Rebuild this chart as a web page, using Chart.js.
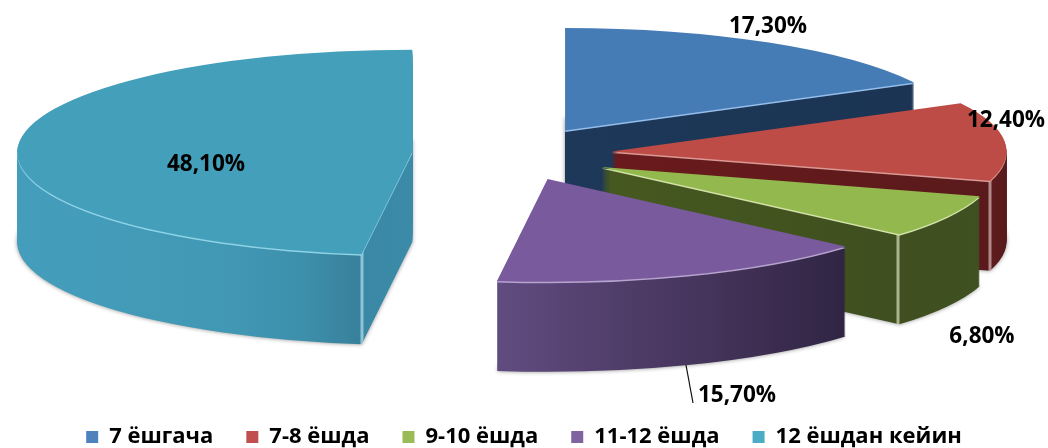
<!DOCTYPE html>
<html><head><meta charset="utf-8">
<style>html,body{margin:0;padding:0;background:#fff}canvas{display:block}</style>
<script src="https://cdn.jsdelivr.net/npm/chart.js@4"></script>
</head><body><canvas id="c" width="1048" height="448"></canvas>
<script>
const categories = ['7 ёшгача','7-8 ёшда','9-10 ёшда','11-12 ёшда','12 ёшдан кейин'];
const values = [17.3,12.4,6.8,15.7,48.1];
const legendColors = ['#4f81bd','#c0504d','#9bbb59','#8064a2','#4bacc6'];
const topColors = ['#457cb6','#bd4b46','#93b84e','#795a9c','#449fba'];
const explode = [105,101,103,103,99];

const CX = 511, CY = 154, SQUASH = 0.26, DEPTH = 90, RADIUS = 395, FONT = '"Open Sans", Lato, sans-serif';
const rim = ['rgba(150,190,235,1)','#d99a96','#d2e2a8','#b7a4cf','#8fd3e6'];
// horizontal shading of each slice's side wall: [pixel x, colour]
const walls = [
  [[560,'#1d3859'],[912,'#1b3453']],
  [[612,'#6a1a1c'],[988,'#5a1a1b'],[989,'#b08a88'],[991,'#b08a88'],[992,'#5e1c1d'],[1006,'#571a1b']],
  [[600,'#46591f'],[896,'#3f4f20'],[897,'#a8b48c'],[899,'#a8b48c'],[900,'#3f4f20'],[980,'#3f5021']],
  [[498,'#614c80'],[640,'#4d3b66'],[760,'#3e2e52'],[847,'#2f2543']],
  [[15,'#449ebb'],[230,'#4198b5'],[300,'#3d90ac'],[360,'#38809b'],[361,'#8fc4d6'],[363,'#8fc4d6'],[364,'#3a88a6'],[412,'#3a8aa8']]
];
const labelSpots = [[768,27],[1006,121],[982,337],[737,396],[206,165]];
const leader = [[686,365],[693,403]];

function paint(el, fill){
  const o = el.options;
  el.options = Object.create(o,{backgroundColor:{value:fill},offset:{value:0}});
  el.draw(el.$ctx);
  el.options = o;
}
const pie3d = {
  id:'pie3d',
  beforeDatasetsDraw(chart){
    const ctx = chart.ctx, arcs = chart.getDatasetMeta(0).data;
    arcs.forEach((el,i)=>{
      el.$ctx = ctx;
      const mid = (el.startAngle+el.endAngle)/2, off = el.options.offset;
      const put = dy => {
        ctx.translate(CX,CY+dy); ctx.scale(1,SQUASH);
        ctx.translate(Math.cos(mid)*off,Math.sin(mid)*off);
        ctx.translate(-el.x,-el.y);
      };
      const ux = px => px-CX-Math.cos(mid)*off+el.x;
      const w = walls[i], x0 = w[0][0], x1 = w[w.length-1][0];
      for(let d=DEPTH;d>=1;d--){
        ctx.save(); put(d);
        const g = ctx.createLinearGradient(ux(x0),0,ux(x1),0);
        w.forEach(s=>g.addColorStop((s[0]-x0)/(x1-x0),s[1]));
        if(d===DEPTH){ctx.shadowColor='rgba(0,0,0,.45)';ctx.shadowBlur=4;}
        paint(el,g);
        ctx.restore();
      }
      ctx.save(); put(1.5); paint(el,rim[i]); ctx.restore();
      ctx.save(); put(0); paint(el,topColors[i]); ctx.restore();
    });
    ctx.save();
    ctx.strokeStyle='#111'; ctx.lineWidth=1.2;
    ctx.beginPath(); ctx.moveTo(...leader[0]); ctx.lineTo(...leader[1]); ctx.stroke();
    ctx.fillStyle='#000'; ctx.font='bold 22.5px '+FONT;
    ctx.textAlign='center'; ctx.textBaseline='middle';
    values.forEach((v,i)=>ctx.fillText(v.toFixed(2).replace('.',',')+'%',labelSpots[i][0],labelSpots[i][1]));
    ctx.restore();
    return false;
  }
};
new Chart(document.getElementById('c'),{
  type:'pie',
  data:{labels:categories,datasets:[{data:values,backgroundColor:legendColors,borderWidth:0,offset:explode}]},
  options:{
    responsive:false,animation:false,radius:RADIUS,
    events:[],
    layout:{padding:{bottom:-10}},
    plugins:{
      tooltip:{enabled:false},
      legend:{position:'bottom',labels:{color:'#000',boxWidth:12,boxHeight:12,padding:33,font:{family:FONT,size:22,weight:'bold'}}}
    }
  },
  plugins:[pie3d]
});
</script></body></html>
